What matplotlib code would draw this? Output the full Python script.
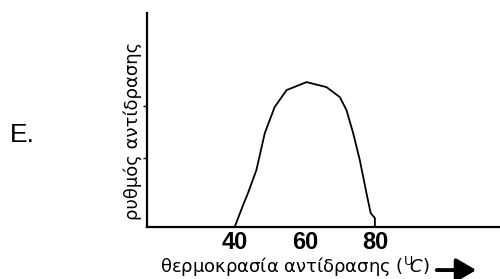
import matplotlib
matplotlib.use("Agg")
import matplotlib.pyplot as plt
import numpy as np

temperature = [40.0, 42.4, 43.8, 46.2, 48.6, 51.4, 54.8, 60.5, 66.2, 70.0, 71.9, 73.8, 75.7, 77.6, 78.8, 80.0, 80.0]
rate = [0, 22, 34, 57, 94, 120, 137, 145, 140, 130, 117, 94, 67, 34, 14, 9, 0]
x_ticks = [40, 60, 80]
y_ticks = [69, 121]

plt.rcParams['font.family'] = ['Liberation Sans', 'DejaVu Sans']

fig = plt.figure(figsize=(5.0, 2.79), dpi=100)
ax = fig.add_axes([0.294, 0.186, 0.704, 0.767])
ax.plot(temperature, rate, color='black', lw=1.3)
ax.set_xlim(15, 115.4)
ax.set_ylim(0, 214)
for s in ['top', 'right']:
    ax.spines[s].set_visible(False)
for s in ['left', 'bottom']:
    ax.spines[s].set_linewidth(1.6)
ax.set_xticks(x_ticks)
ax.set_xticklabels([str(t) for t in x_ticks], fontsize=17, fontweight='bold')
ax.tick_params(axis='x', length=0, pad=3)
ax.set_yticks(y_ticks)
ax.set_yticklabels([])
ax.tick_params(axis='y', length=3, width=1, direction='out')

ax.set_ylabel('ρυθμός αντίδρασης', fontsize=13, family=['DejaVu Sans'])
ax.yaxis.set_label_coords(-0.014, 0.449)
fig.text(0.32, 0.0215, r'θερμοκρασία αντίδρασης ($^{\mathrm{U}}\!C$)', fontsize=13,
         family=['DejaVu Sans'], ha='left', va='baseline')
fig.add_artist(matplotlib.patches.FancyArrowPatch((0.868, 0.032), (0.958, 0.032),
    transform=fig.transFigure, arrowstyle='-|>,head_length=6,head_width=3.5', lw=2.8, color='black',
    mutation_scale=2))
fig.text(0.02, 0.515, 'Ε.', fontsize=19, ha='left', va='center')

fig.savefig('out.png', dpi=100)
